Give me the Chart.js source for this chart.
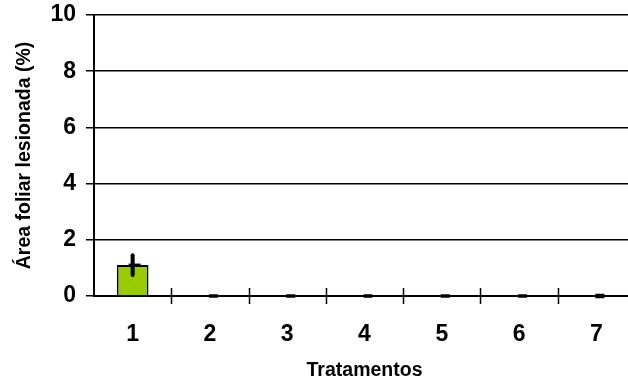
<!DOCTYPE html>
<html><head><meta charset="utf-8">
<script src="https://cdn.jsdelivr.net/npm/chart.js@4.4.0/dist/chart.umd.min.js"></script>
<style>
html,body{margin:0;padding:0;background:#fff;overflow:hidden;width:628px;height:383px}
#wrap{width:650px;height:383px;position:relative}
</style></head><body>
<div id="wrap"><canvas id="c" width="650" height="383"></canvas></div>
<script>
const categories = ['1','2','3','4','5','6','7'];
const values = [1.1, 0, 0, 0, 0, 0, 0];
const errors = [0.35, 0, 0, 0, 0, 0, 0];
const yTicks = [0, 2, 4, 6, 8, 10];
const yTitle = 'Área foliar lesionada (%)';
const xTitle = 'Tratamentos';

const errPlugin = {
  id: 'errbars',
  afterDatasetsDraw(chart) {
    const ctx = chart.ctx, x = chart.scales.x, y = chart.scales.y;
    const half = (x.getPixelForValue(1) - x.getPixelForValue(0)) / 2;
    ctx.save();
    ctx.strokeStyle = '#000';
    ctx.lineWidth = 1.5;
    const y0 = y.getPixelForValue(0);
    for (let i = 1; i <= categories.length; i++) {
      const px = Math.round(x.getPixelForValue(0) - half + i * 2 * half) + 0.5;
      ctx.beginPath(); ctx.moveTo(px, y0 - 8); ctx.lineTo(px, y0 + 8); ctx.stroke();
    }
    values.forEach((v, i) => {
      const cx = x.getPixelForValue(i);
      const py = y.getPixelForValue(v);
      if (errors[i] > 0) {
        ctx.lineWidth = 4; ctx.lineCap = 'round';
        ctx.beginPath();
        ctx.moveTo(cx, y.getPixelForValue(v + errors[i]));
        ctx.lineTo(cx, y.getPixelForValue(v - errors[i]));
        ctx.stroke();
        ctx.lineCap = 'butt'; ctx.lineWidth = 3;
        ctx.beginPath(); ctx.moveTo(cx - 4, py); ctx.lineTo(cx + 8, py); ctx.stroke();
      } else {
        ctx.lineCap = 'butt';
        ctx.lineWidth = i === categories.length - 1 ? 4.5 : 3.5;
        ctx.beginPath(); ctx.moveTo(cx - 1, py); ctx.lineTo(cx + 8, py); ctx.stroke();
      }
    });
    ctx.restore();
  }
};

new Chart(document.getElementById('c'), {
  type: 'bar',
  data: {
    labels: categories,
    datasets: [{
      data: values,
      backgroundColor: '#99CC00',
      borderColor: '#000',
      borderWidth: 1.8,
      barPercentage: 0.41,
      categoryPercentage: 1.0
    }]
  },
  options: {
    responsive: false,
    animation: false,
    layout: { padding: { top: 15, right: 15, left: 0, bottom: 0 } },
    plugins: { legend: { display: false }, tooltip: { enabled: false } },
    scales: {
      x: {
        offset: true,
        grid: { display: false, offset: true },
        border: { display: true, color: '#000', width: 2 },
        ticks: { color: '#000', padding: 17, font: { family: 'Liberation Sans', size: 23, weight: 'bold' } },
        title: { display: true, text: xTitle, color: '#000', padding: { top: 0, bottom: 1 },
                 font: { family: 'Liberation Sans', size: 19.5, weight: 'bold' } },
        afterFit(s) { s.height = 87; s.paddingLeft = 0; s.paddingRight = 0; }
      },
      y: {
        min: 0, max: 10,
        afterBuildTicks(s) { s.ticks = yTicks.map(v => ({ value: v })); },
        grid: { color: '#000', lineWidth: 1.5, tickLength: 8 },
        border: { display: true, color: '#000', width: 2 },
        ticks: { color: '#000', padding: 10, font: { family: 'Liberation Sans', size: 23, weight: 'bold' } },
        title: { display: true, text: yTitle, color: '#000', padding: { top: 13, bottom: 0 },
                 font: { family: 'Liberation Sans', size: 19.5, weight: 'bold' } },
        afterFit(s) { s.width = 94; s.paddingTop = 0; s.paddingBottom = 0; }
      }
    }
  },
  plugins: [errPlugin]
});
</script>
</body></html>
